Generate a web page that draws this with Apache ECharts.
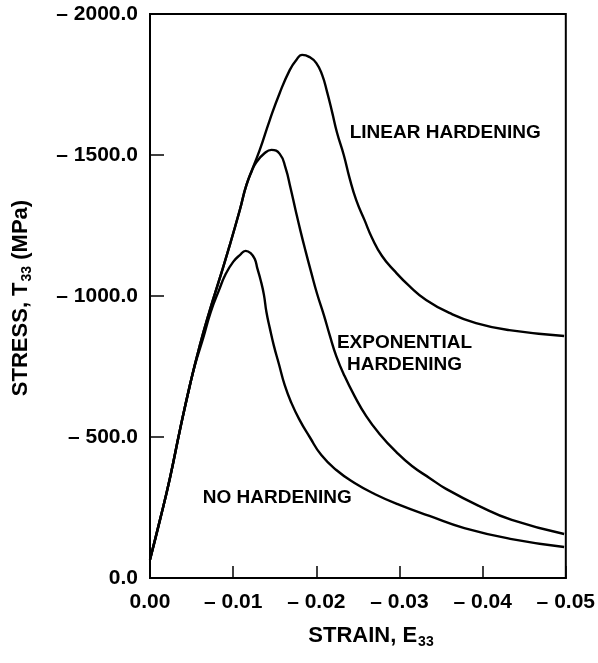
<!DOCTYPE html>
<html>
<head>
<meta charset="utf-8">
<script src="https://cdn.jsdelivr.net/npm/echarts@6/dist/echarts.min.js"></script>
<style>
  html, body { margin: 0; padding: 0; background: #fff; }
  #chart { width: 598px; height: 663px; }
</style>
</head>
<body>
<div id="chart"></div>
<script>
// Axial stress vs. axial strain for three hardening laws (compression: negative values)
const strainTicks = [0, -0.01, -0.02, -0.03, -0.04, -0.05];
const stressTicks = [0, -500, -1000, -1500, -2000];

const linearStrain = [0, -0.0012, -0.0024, -0.0036, -0.0048, -0.0060, -0.0072, -0.0084, -0.0096, -0.0108, -0.0116, -0.0132, -0.0144, -0.0156, -0.0168, -0.0176, -0.0183, -0.0192, -0.0200, -0.0207, -0.0213, -0.0219, -0.0225, -0.0233, -0.0240, -0.0248, -0.0258, -0.0267, -0.0279, -0.0294, -0.0312, -0.0332, -0.0360, -0.0392, -0.0432, -0.0498];
const linearStress = [-65, -206, -355, -525, -684, -826, -950, -1064, -1181, -1305, -1394, -1518, -1624, -1720, -1801, -1837, -1855, -1847, -1826, -1784, -1723, -1652, -1578, -1500, -1418, -1340, -1269, -1206, -1142, -1089, -1035, -986, -940, -904, -879, -858];

const expStrain = [0, -0.0012, -0.0024, -0.0036, -0.0048, -0.0060, -0.0072, -0.0084, -0.0096, -0.0108, -0.0116, -0.0122, -0.0128, -0.0138, -0.0146, -0.0156, -0.0163, -0.0169, -0.0175, -0.0181, -0.0187, -0.0194, -0.0201, -0.0209, -0.0216, -0.0224, -0.0234, -0.0246, -0.0260, -0.0276, -0.0296, -0.0315, -0.0336, -0.0356, -0.0396, -0.0435, -0.0498];
const expStress = [-65, -206, -355, -525, -684, -826, -950, -1064, -1181, -1305, -1394, -1440, -1475, -1507, -1518, -1504, -1454, -1383, -1305, -1230, -1160, -1082, -1007, -933, -862, -787, -716, -645, -574, -511, -447, -397, -355, -316, -255, -206, -156];

const noStrain = [0, -0.0012, -0.0024, -0.0036, -0.0048, -0.0054, -0.0064, -0.0073, -0.0083, -0.0091, -0.0100, -0.0108, -0.0115, -0.0121, -0.0126, -0.0129, -0.0133, -0.0137, -0.0140, -0.0144, -0.0149, -0.0155, -0.0162, -0.0170, -0.0180, -0.0192, -0.0206, -0.0224, -0.0246, -0.0270, -0.0300, -0.0336, -0.0378, -0.0435, -0.0498];
const noStress = [-65, -206, -355, -525, -684, -755, -851, -943, -1021, -1078, -1121, -1145, -1160, -1152, -1131, -1099, -1057, -1004, -943, -887, -823, -759, -684, -621, -560, -500, -436, -383, -337, -298, -259, -220, -177, -138, -110];

const curveNames = ['LINEAR HARDENING', 'EXPONENTIAL\nHARDENING', 'NO HARDENING'];
const curveLabelStrain = [-0.0355, -0.0306, -0.0153];
const curveLabelStress = [-1578, -794, -284];

const FONT = '"Liberation Sans", Arial, Helvetica, sans-serif';

function pairs(xs, ys) { return xs.map((x, i) => [x, ys[i]]); }

function curve(name, xs, ys) {
  return {
    name: name,
    type: 'line',
    data: pairs(xs, ys),
    showSymbol: false,
    smooth: 0.5,
    lineStyle: { color: '#000', width: 2.4 },
    silent: true,
    z: 3
  };
}

const chart = echarts.init(document.getElementById('chart'), null, { renderer: 'canvas' });

const option = {
  animation: false,
  backgroundColor: '#fff',
  grid: { left: 150, right: 31, top: 14, bottom: 85, show: true, borderColor: '#000', borderWidth: 2, backgroundColor: 'transparent' },
  xAxis: {
    type: 'value',
    min: -0.05, max: 0, interval: 0.01, inverse: true,
    axisLine: { show: true, lineStyle: { color: '#000', width: 2 } },
    axisTick: { show: true, inside: true, length: 12, lineStyle: { color: '#000', width: 1.5 } },
    splitLine: { show: false },
    axisLabel: {
      margin: 14, fontSize: 21, fontFamily: FONT, fontWeight: 'bold', color: '#000',
      formatter: v => (Math.abs(v) < 1e-9 ? '0.00' : '\u2013 ' + Math.abs(v).toFixed(2))
    }
  },
  yAxis: {
    type: 'value',
    min: -2000, max: 0, interval: 500, inverse: true,
    axisLine: { show: true, lineStyle: { color: '#000', width: 2 } },
    axisTick: { show: true, inside: true, length: 14, lineStyle: { color: '#000', width: 1.5 } },
    splitLine: { show: false },
    axisLabel: {
      margin: 12, fontSize: 21, fontFamily: FONT, fontWeight: 'bold', color: '#000',
      formatter: v => (Math.abs(v) < 1e-9 ? '0.0' : '\u2013 ' + Math.abs(v).toFixed(1))
    }
  },
  series: [
    curve('Linear hardening', linearStrain, linearStress),
    curve('Exponential hardening', expStrain, expStress),
    curve('No hardening', noStrain, noStress),
    {
      name: 'Curve labels',
      type: 'custom',
      silent: true,
      z: 4,
      data: pairs(curveLabelStrain, curveLabelStress),
      renderItem: (params, api) => {
        const p = api.coord([api.value(0), api.value(1)]);
        return {
          type: 'text',
          x: p[0], y: p[1],
          style: {
            text: curveNames[params.dataIndex],
            fontSize: 19, fontFamily: FONT, fontWeight: 'bold', fill: '#000',
            lineHeight: 22, align: 'center', verticalAlign: 'middle'
          }
        };
      }
    }
  ],
  graphic: [
    {
      type: 'text',
      x: 371, y: 636,
      style: {
        text: 'STRAIN, E{sub|33}',
        fontSize: 22, fontFamily: FONT, fontWeight: 'bold', fill: '#000',
        align: 'center', verticalAlign: 'middle',
        rich: { sub: { fontSize: 14, fontFamily: FONT, fontWeight: 'bold', fill: '#000', padding: [13, 0, 0, 1] } }
      }
    },
    {
      type: 'text',
      x: 21, y: 298,
      rotation: Math.PI / 2,
      style: {
        text: 'STRESS, T{sub|33} (MPa)',
        fontSize: 22, fontFamily: FONT, fontWeight: 'bold', fill: '#000',
        align: 'center', verticalAlign: 'middle',
        rich: { sub: { fontSize: 14, fontFamily: FONT, fontWeight: 'bold', fill: '#000', padding: [13, 0, 0, 1] } }
      }
    }
  ]
};

chart.setOption(option);
</script>
</body>
</html>
